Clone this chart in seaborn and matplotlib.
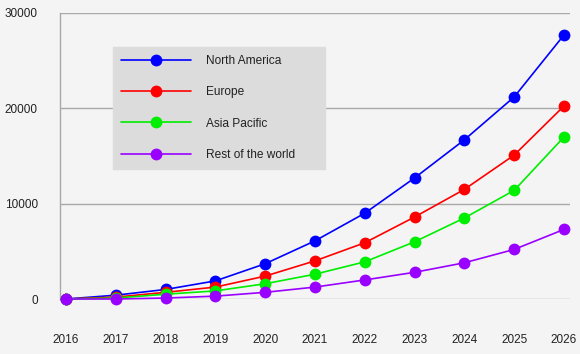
import numpy as np
import pandas as pd
import seaborn as sns
import matplotlib
matplotlib.use("Agg")
import matplotlib.pyplot as plt

years = list(range(2016, 2027))
north_america = [0, 400, 1000, 1900, 3700, 6100, 9000, 12700, 16700, 21200, 27700]
europe = [0, 200, 700, 1250, 2400, 4000, 5900, 8600, 11500, 15100, 20250]
asia_pacific = [0, 100, 500, 850, 1600, 2600, 3900, 6000, 8500, 11400, 17000]
rest_of_world = [0, 0, 100, 300, 700, 1250, 2000, 2800, 3800, 5200, 7300]
regions = ["North America", "Europe", "Asia Pacific", "Rest of the world"]
colors = ["#0000ff", "#ff0000", "#00ee00", "#9900ff"]
y_ticks = [0, 10000, 20000, 30000]

df = pd.DataFrame({"year": years * 4,
                   "value": north_america + europe + asia_pacific + rest_of_world,
                   "region": sum([[r] * len(years) for r in regions], [])})

sns.set_theme(style="white")
plt.rcParams["font.family"] = ["Liberation Sans", "DejaVu Sans"]

fig = plt.figure(figsize=(5.8, 3.54), dpi=100)
fig.patch.set_facecolor("#f4f4f4")
ax = fig.add_axes([60 / 580, 1 - 299 / 354, 510 / 580, 286 / 354])
ax.set_facecolor("#f4f4f4")

sns.lineplot(data=df, x="year", y="value", hue="region", hue_order=regions,
             palette=colors, marker="o", markersize=8.5, markeredgewidth=0,
             linewidth=1.2, ax=ax, clip_on=False, zorder=3)

ax.set_ylim(0, 30000)
ax.set_xlim(2015.88, 2026.12)
ax.set_yticks(y_ticks)
ax.set_yticklabels([str(t) for t in y_ticks])
ax.set_xticks(years)
ax.set_xticklabels([str(y) for y in years])
ax.tick_params(axis="x", length=0, pad=25, labelsize=8.5, colors="#222222")
ax.tick_params(axis="y", length=0, pad=16, labelsize=8.5, colors="#222222")
ax.grid(axis="y", color="#a8a8a8", linewidth=1)
ax.set_axisbelow(True)
for s in ["top", "right", "bottom"]:
    ax.spines[s].set_visible(False)
ax.spines["left"].set_color("#a8a8a8")
ax.spines["left"].set_linewidth(1)
ax.set_xlabel("")
ax.set_ylabel("")

# legend box: 113..325 px wide, top at 47 px
leg = ax.legend(loc="upper left",
                bbox_to_anchor=(53 / 510, 1 - 155 / 286, 212 / 510, 121 / 286),
                mode="expand", frameon=True, fancybox=False, fontsize=8.6,
                handlelength=5.8, handletextpad=1.3, labelspacing=1.6,
                borderpad=0.7, borderaxespad=0)
leg.get_frame().set_facecolor("#dcdcdc")
leg.get_frame().set_edgecolor("#dcdcdc")
leg.get_frame().set_alpha(1)
for t in leg.get_texts():
    t.set_color("#222222")

fig.savefig("out.png", dpi=100, facecolor=fig.get_facecolor())
